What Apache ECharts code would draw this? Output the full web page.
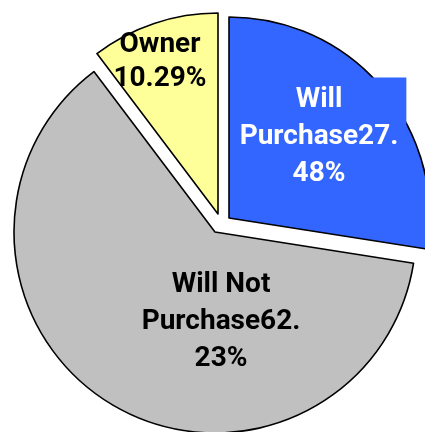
<!DOCTYPE html>
<html>
<head>
<meta charset="utf-8">
<script src="https://cdn.jsdelivr.net/npm/echarts@6/dist/echarts.min.js"></script>
<style>html,body{margin:0;padding:0;background:#fff;}#c{width:425px;height:432px;}</style>
</head>
<body>
<div id="c"></div>
<script>
var categories = ['Will Purchase', 'Will Not Purchase', 'Owner'];
var values = [27.48, 62.23, 10.29];
var labelTexts = ['Will\nPurchase27.\n48%', 'Will Not\nPurchase62.\n23%', 'Owner\n10.29%'];
var colors = ['#3366FF', '#C0C0C0', '#FFFF99'];
var textColors = ['#FFFFFF', '#000000', '#000000'];

// per-slice exploded centres (pixel) and label anchor positions
var centers = [[229, 218], [215, 232], [218, 214]];
var labelPos = [[319, 137], [221, 322], [160, 62]];
var lineHeights = [37, 37, 34];

var chart = echarts.init(document.getElementById('c'));
var series = categories.map(function (cat, s) {
  return {
    type: 'pie',
    center: centers[s],
    radius: 201,
    startAngle: 90,
    clockwise: true,
    silent: true,
    animation: false,
    z: s === 0 ? 3 : 2,
    labelLine: { show: false },
    labelLayout: function (p) {
      if (p.dataIndex !== s) return {};
      return { x: labelPos[s][0], y: labelPos[s][1], align: 'center', verticalAlign: 'middle' };
    },
    data: categories.map(function (name, i) {
      var on = i === s;
      return {
        name: name,
        value: values[i],
        itemStyle: on
          ? { color: colors[i], borderColor: '#000', borderWidth: 1.6 }
          : { color: 'rgba(0,0,0,0)', borderWidth: 0 },
        label: on
          ? {
              show: true,
              position: 'inside',
              formatter: labelTexts[i],
              color: textColors[i],
              fontFamily: 'Roboto, "Liberation Sans", sans-serif',
              fontWeight: 'bold',
              fontSize: 28,
              lineHeight: lineHeights[i],
              align: 'center',
              backgroundColor: i === 0 ? colors[0] : 'transparent',
              padding: i === 0 ? [4, 8] : 0
            }
          : { show: false }
      };
    })
  };
});

chart.setOption({
  backgroundColor: '#fff',
  animation: false,
  series: series
});
</script>
</body>
</html>
